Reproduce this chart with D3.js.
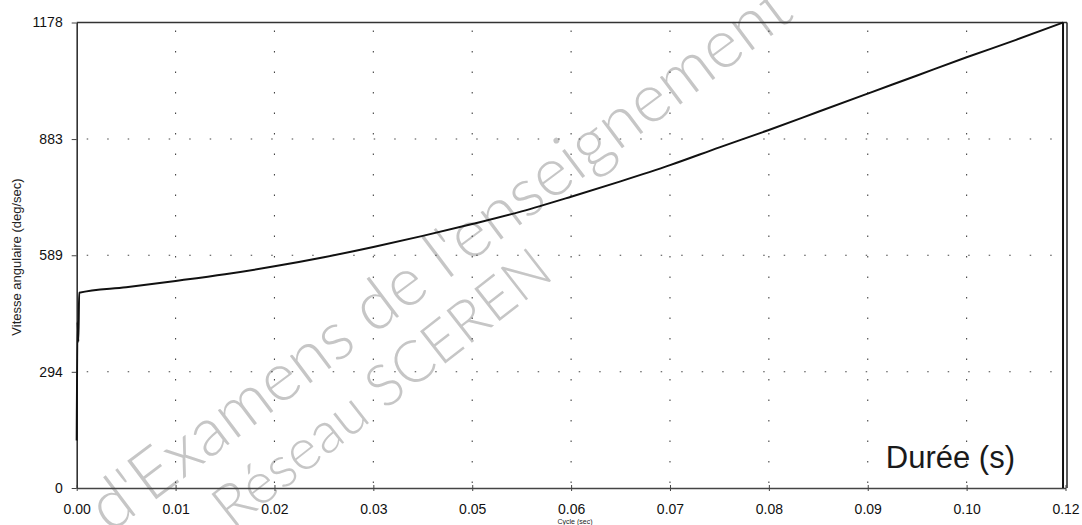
<!DOCTYPE html>
<html>
<head>
<meta charset="utf-8">
<script src="https://cdn.jsdelivr.net/npm/d3@7"></script>
<style>
  html, body { margin: 0; padding: 0; background: #fff; }
  svg { display: block; }
</style>
</head>
<body>
<svg id="chart" width="1082" height="525"></svg>
<script>
// ---- data ----
const xTickValues = [0, 0.012, 0.024, 0.036, 0.048, 0.06, 0.072, 0.084, 0.096, 0.108, 0.12];
const xTickLabels = ["0.00", "0.01", "0.02", "0.03", "0.05", "0.06", "0.07", "0.08", "0.09", "0.10", "0.12"];
const yTickValues = [0, 294, 589, 883, 1178];
const yTickLabels = ["0", "294", "589", "883", "1178"];
const timeSec = [0, 0.0001, 0.0002, 0.0003, 0.006, 0.012, 0.018, 0.024, 0.030, 0.036, 0.042, 0.048, 0.054, 0.060, 0.066, 0.072, 0.078, 0.084, 0.090, 0.096, 0.102, 0.108, 0.114, 0.1197];
const angSpeed = [120, 420, 370, 494, 508, 524, 541, 561, 584, 610, 638, 668, 700, 737, 776, 817, 862, 906, 952, 998, 1044, 1090, 1134, 1178];
const dropTime = [0.1197, 0.1197];
const dropSpeed = [1178, 0];
const yTitle = "Vitesse angulaire (deg/sec)";
const xTitle = "Cycle (sec)";
const annotation = "Durée (s)";
const watermark1 = "d'Examens de l'enseignement";
const watermark2 = "Réseau SCEREN";

// ---- layout ----
const svg = d3.select("#chart");
const x = d3.scaleLinear().domain([0, 0.12]).range([76.7, 1065.5]);
const y = d3.scaleLinear().domain([0, 1178]).range([488, 22.5]);
const font = "'Liberation Sans', Arial, sans-serif";

// watermark (behind)
const wm = svg.append("g").attr("fill", "#c6c6c6")
  .style("font-family", "Lato, 'Noto Sans', sans-serif").style("font-weight", "300");
wm.append("text").attr("transform", "translate(110,534) rotate(-37)").style("font-size", "68px").text(watermark1);
wm.append("text").attr("transform", "translate(232,530) rotate(-38)").style("font-size", "58px").text(watermark2);

// dotted grid
const grid = svg.append("g").attr("stroke", "#444").attr("stroke-width", 1.1)
  .attr("stroke-dasharray", "1.5,19");
grid.selectAll("line.v").data(xTickValues.slice(1, -1)).join("line")
  .attr("x1", d => x(d)).attr("x2", d => x(d)).attr("y1", y(1178) + 8).attr("y2", y(0) - 4);
grid.selectAll("line.h").data(yTickValues.slice(1, -1)).join("line")
  .attr("y1", d => y(d)).attr("y2", d => y(d)).attr("x1", x(0) + 10).attr("x2", x(0.12) - 6);

// frame
const frame = svg.append("g").attr("stroke", "#333").attr("stroke-width", 1.6).attr("fill", "none");
frame.append("line").attr("x1", x(0)).attr("x2", 1067).attr("y1", y(1178)).attr("y2", y(1178));
frame.append("line").attr("x1", 1067).attr("x2", 1067).attr("y1", y(1178)).attr("y2", y(0));

// axes
const xAxis = d3.axisBottom(x).tickValues(xTickValues).tickFormat((d, i) => xTickLabels[i])
  .tickSizeInner(3).tickSizeOuter(0).tickPadding(13);
const gx = svg.append("g").attr("transform", `translate(0,${y(0)})`).call(xAxis);
gx.select(".domain").attr("stroke", "#444").attr("stroke-width", 1.6);
gx.selectAll(".tick line").attr("stroke", "#444").attr("y1", -3);
gx.selectAll(".tick text").attr("fill", "#111").style("font-family", font).style("font-size", "14px");

const yAxis = d3.axisLeft(y).tickValues(yTickValues).tickFormat((d, i) => yTickLabels[i])
  .tickSizeInner(5).tickSizeOuter(0).tickPadding(9);
const gy = svg.append("g").attr("transform", `translate(${x(0)},0)`).call(yAxis);
gy.select(".domain").attr("stroke", "#333").attr("stroke-width", 1.6);
gy.selectAll(".tick line").attr("stroke", "#444");
gy.selectAll(".tick text").attr("fill", "#111").style("font-family", font).style("font-size", "14px");

// curve
const line = d3.line().x(d => x(d[0])).y(d => y(d[1])).curve(d3.curveMonotoneX);
svg.append("path").datum(timeSec.map((t, i) => [t, angSpeed[i]]))
  .attr("d", line).attr("fill", "none").attr("stroke", "#111").attr("stroke-width", 2);
svg.append("path").datum(dropTime.map((t, i) => [t, dropSpeed[i]]))
  .attr("d", d3.line().x(d => x(d[0])).y(d => y(d[1])))
  .attr("fill", "none").attr("stroke", "#111").attr("stroke-width", 2);

// titles
svg.append("text").attr("transform", "translate(21,257) rotate(-90)")
  .attr("text-anchor", "middle").attr("fill", "#222")
  .style("font-family", font).style("font-size", "13px").text(yTitle);
svg.append("text").attr("x", 575).attr("y", 524).attr("text-anchor", "middle").attr("fill", "#222")
  .style("font-family", font).style("font-size", "7px").text(xTitle);
svg.append("text").attr("x", 1015).attr("y", 468).attr("text-anchor", "end").attr("fill", "#1a1a1a")
  .style("font-family", font).style("font-size", "31px").text(annotation);
</script>
</body>
</html>
